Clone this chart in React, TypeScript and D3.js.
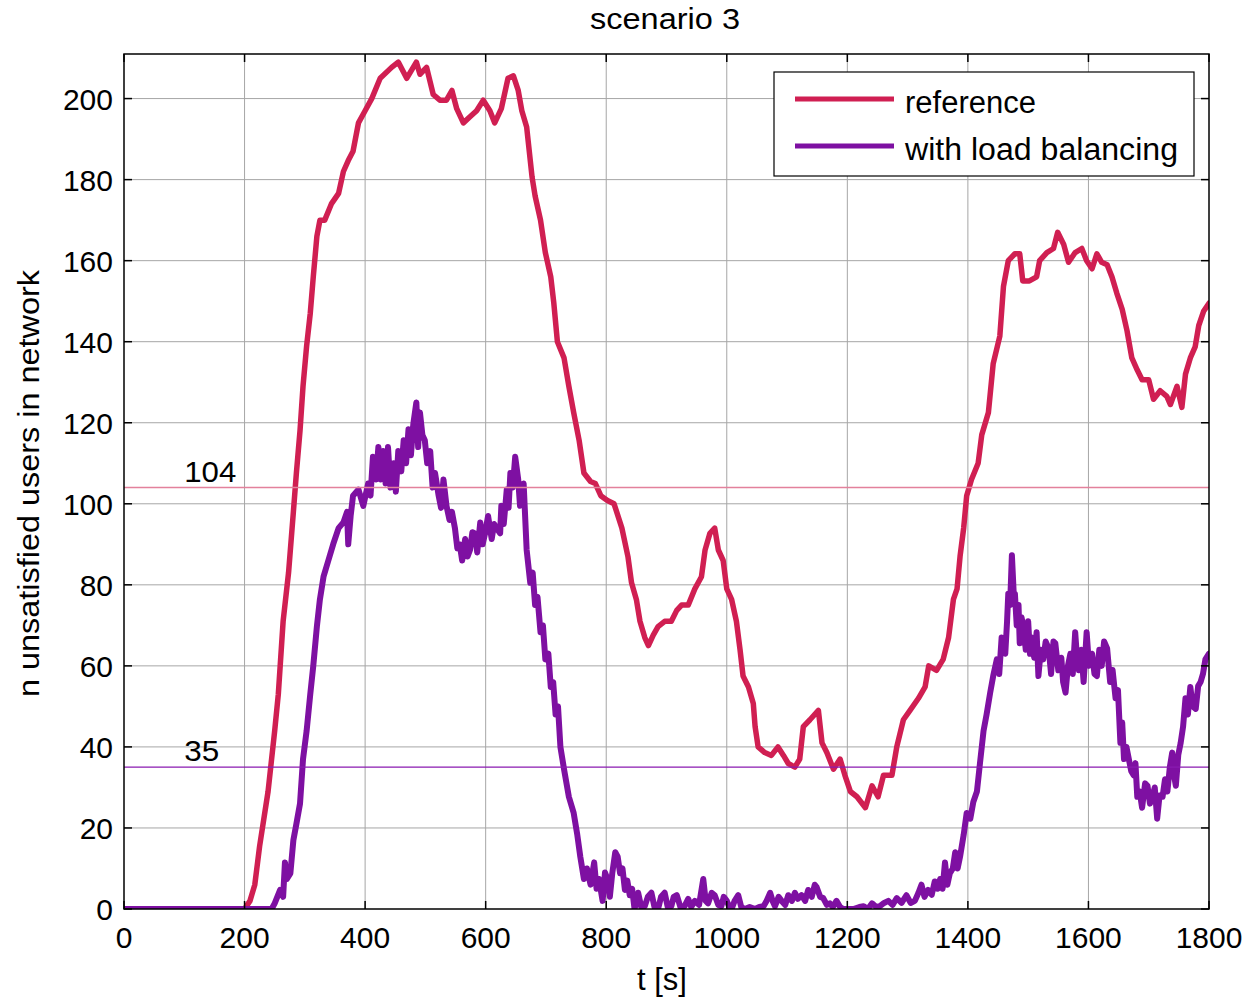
import React from "react";
import * as d3 from "d3";

// Time axis ticks (s) and user-count ticks
const xTicks = [0, 200, 400, 600, 800, 1000, 1200, 1400, 1600, 1800];
const yTicks = [0, 20, 40, 60, 80, 100, 120, 140, 160, 180, 200];

// Threshold levels annotated on the chart
const thresholdRef = 104;
const thresholdLb = 35;

const seriesNames = ["reference", "with load balancing"];
const seriesColors = ["#D01F52", "#7E10A2"];

// [t (s), unsatisfied users] — reference scenario
const referenceData: [number, number][] = [
  [0, 0], [200, 0], [209, 2], [217, 6], [225, 15.5], [239, 29], [250, 44], [256, 53],
  [264, 71], [273, 83], [281, 98], [286, 107.6], [292, 118], [297, 129], [303, 139],
  [309, 147], [314, 156], [320, 166], [325, 170], [333, 170], [344, 174], [356, 176.6],
  [364, 182], [372, 184.7], [380, 187], [389, 194], [400, 197], [411, 200], [425, 205],
  [444, 207.7], [455, 209], [469, 205], [485, 209], [491, 206], [502, 207.7], [513, 201],
  [524, 199.6], [535, 199.6], [544, 202], [552, 197.5], [563, 194], [574, 195.5], [585, 197],
  [596, 199.6], [607, 197], [615, 194], [626, 197.5], [637, 205], [646, 205.6], [654, 202],
  [660, 197], [668, 193], [677, 180.6], [682, 176], [691, 170], [699, 162], [708, 156],
  [713, 149.6], [719, 140], [730, 136], [738, 129], [746, 122.5], [755, 115.7], [763, 107.6],
  [774, 105.5], [782, 105], [791, 102], [802, 100.8], [813, 100], [826, 94], [836, 87],
  [842, 80.5], [850, 76.4], [856, 71], [864, 67], [870, 65], [878, 67.6], [886, 69.7],
  [897, 71], [908, 71], [917, 73.7], [925, 75], [936, 75], [947, 79], [958, 82], [964, 88.6],
  [972, 92.7], [980, 94], [986, 88.6], [994, 86], [1000, 79], [1008, 76.4], [1016, 71],
  [1022, 64], [1027, 57.5], [1036, 54.8], [1044, 50.7], [1047, 45], [1052, 40], [1063, 38.6],
  [1074, 37.9], [1085, 40], [1094, 37.9], [1102, 35.9], [1113, 35], [1121, 37], [1127, 45],
  [1138, 46.7], [1152, 49], [1158, 41], [1166, 38.6], [1177, 34.5], [1188, 37], [1196, 33],
  [1205, 29], [1216, 27.7], [1230, 25], [1241, 30.4], [1251, 27.7], [1260, 33], [1274, 33],
  [1282, 40], [1293, 46.7], [1304, 49], [1318, 52], [1329, 54.8], [1335, 60], [1348, 58.9],
  [1359, 61.6], [1368, 67], [1376, 76.4], [1382, 79], [1387, 87], [1393, 94], [1398, 102],
  [1406, 106], [1417, 110], [1423, 117], [1434, 122.5], [1442, 134.6], [1453, 141.4],
  [1459, 153.6], [1467, 160], [1478, 161.7], [1486, 161.7], [1491, 155], [1502, 155],
  [1514, 156], [1519, 160], [1531, 162], [1542, 163], [1549, 167], [1559, 164], [1567, 159.6],
  [1578, 162], [1589, 163], [1597, 160], [1606, 158], [1614, 161.7], [1622, 159.6], [1631, 159],
  [1639, 156], [1647, 152], [1656, 148], [1664, 142.7], [1672, 136], [1681, 133], [1689, 130.6],
  [1700, 130.6], [1708, 125.8], [1719, 127.9], [1730, 126.5], [1736, 124.5], [1747, 129],
  [1755, 123.8], [1761, 132], [1769, 136], [1777, 138.7], [1783, 144], [1791, 147.5], [1800, 149.5],
];

// [t (s), unsatisfied users] — with load balancing
const loadBalancingData: [number, number][] = [
  [0, 0], [245, 0], [250, 1.4], [259, 4.7], [264, 3], [267, 11.5], [270, 7.4], [276, 8.8],
  [281, 17], [286, 21], [292, 26], [297, 37], [303, 44], [309, 53], [314, 60], [320, 69.7],
  [325, 76.4], [331, 82], [339, 86], [347, 90], [356, 94], [364, 95.4], [370, 98], [372, 90],
  [376, 97], [380, 102], [389, 103.5], [397, 99.5], [405, 105], [409, 102], [413, 111.6],
  [418, 106], [422, 114], [426, 106], [430, 113], [434, 105], [438, 114], [442, 104], [447, 110],
  [451, 103], [455, 113], [460, 108], [464, 115.7], [468, 110], [472, 118.4], [476, 112],
  [480, 119.7], [485, 125], [488, 114], [491, 122.5], [495, 117], [499, 115.7], [503, 110],
  [508, 113], [512, 104], [516, 107.6], [522, 102], [526, 99], [530, 106], [535, 99.5], [540, 96],
  [544, 98], [549, 94], [553, 89], [557, 90], [561, 86], [566, 91.3], [570, 87], [574, 88.6],
  [578, 93], [582, 92.7], [586, 88], [591, 95.4], [595, 90], [599, 92.7], [604, 97], [610, 91.3],
  [614, 95], [618, 94], [624, 92.7], [626, 99.5], [630, 95], [635, 103.5], [638, 99], [641, 107.6],
  [645, 104], [649, 111.6], [654, 106], [657, 99.5], [663, 105], [668, 88.6], [674, 80.5],
  [678, 83], [682, 75], [686, 77], [691, 68.3], [695, 70], [699, 61.6], [704, 63], [708, 54.8],
  [712, 56], [716, 48], [720, 50], [724, 40], [730, 34.5], [738, 27.7], [746, 23.7], [752, 18.3],
  [757, 12.9], [763, 7.4], [768, 10], [774, 6], [780, 11.5], [784, 5], [788, 7.4], [794, 2],
  [798, 9], [802, 7.4], [806, 3], [810, 8.8], [815, 14], [819, 12.9], [823, 8.8], [827, 10],
  [831, 4.7], [835, 7], [839, 3.4], [843, 5], [847, 0], [853, 4], [858, 0.5], [864, 0.7],
  [869, 3], [875, 4], [880, 0.5], [886, 0], [891, 3], [897, 4], [902, 0.5], [908, 0.7], [912, 3],
  [917, 3.4], [923, 0.5], [930, 0.7], [936, 2.5], [941, 0.5], [947, 2], [954, 1], [961, 7.4],
  [965, 2], [969, 1.4], [975, 4], [980, 3.4], [986, 1], [991, 0.7], [995, 3], [1000, 2],
  [1004, 0.5], [1008, 0], [1013, 2], [1019, 3.4], [1024, 0.5], [1030, 0], [1038, 0.5], [1047, 0],
  [1054, 0.5], [1061, 0.7], [1066, 2], [1072, 4], [1076, 2], [1080, 0.7], [1086, 3], [1091, 2],
  [1097, 1], [1102, 3.4], [1108, 2], [1113, 4], [1118, 2.5], [1124, 3.4], [1130, 2], [1135, 4.7],
  [1141, 3], [1146, 6], [1149, 5.4], [1155, 3], [1160, 2.7], [1166, 1], [1171, 1.4], [1176, 0.5],
  [1182, 2], [1188, 0.5], [1193, 0], [1210, 0], [1220, 0.5], [1227, 0.7], [1234, 0], [1241, 1.4],
  [1248, 0.5], [1254, 0.7], [1261, 1.5], [1268, 2], [1275, 1], [1282, 2.7], [1290, 1.5],
  [1298, 3.4], [1305, 1.5], [1312, 2], [1318, 4], [1323, 6], [1328, 3], [1334, 4.7], [1340, 3.5],
  [1345, 6.8], [1350, 5], [1354, 7.4], [1358, 5], [1362, 11.5], [1366, 6], [1370, 8.8], [1375, 10],
  [1379, 14], [1383, 10], [1387, 12.9], [1393, 18.3], [1398, 23.7], [1404, 22.3], [1409, 26.4],
  [1415, 29], [1420, 35.9], [1426, 44], [1431, 48], [1437, 53.4], [1442, 57.5], [1448, 61.6],
  [1452, 58], [1456, 67], [1462, 63], [1465, 71], [1467, 77.8], [1470, 75], [1473, 87.3],
  [1476, 78], [1478, 77.8], [1481, 70], [1484, 75], [1486, 65.6], [1489, 72], [1492, 69.7],
  [1496, 64], [1500, 71], [1503, 63], [1506, 67], [1510, 62], [1514, 68.3], [1517, 57.5],
  [1521, 64], [1525, 61.6], [1529, 66], [1534, 64.3], [1538, 58], [1542, 66], [1545, 65.6],
  [1550, 58.9], [1555, 62], [1558, 56], [1562, 53.4], [1566, 60], [1570, 63], [1574, 58],
  [1578, 68.3], [1581, 62], [1584, 58.9], [1588, 64], [1592, 56], [1597, 68.3], [1601, 60],
  [1606, 63], [1610, 58], [1614, 57.5], [1618, 64], [1622, 60], [1626, 66], [1631, 64.3],
  [1636, 56], [1640, 59], [1645, 52], [1649, 54], [1653, 41], [1656, 46], [1659, 37], [1663, 40],
  [1667, 37], [1671, 34], [1675, 33], [1678, 36], [1681, 27.7], [1685, 29], [1689, 25], [1694, 31],
  [1698, 30.4], [1702, 26], [1706, 27.7], [1710, 30], [1714, 22.3], [1718, 28], [1723, 27.7],
  [1727, 32], [1731, 29], [1735, 35], [1739, 38.6], [1742, 33], [1745, 30.4], [1749, 38],
  [1753, 41], [1757, 45], [1761, 52], [1765, 48], [1769, 54.8], [1773, 50], [1778, 49.4],
  [1782, 55], [1786, 56], [1790, 58], [1794, 61.6], [1800, 63],
];

const W = 1251;
const H = 999;
const plot = { left: 124, right: 1209, top: 54, bottom: 909 };
const FONT = "'Liberation Sans', Arial, Helvetica, sans-serif";

export default function App() {
  const x = d3.scaleLinear().domain([0, 1800]).range([plot.left, plot.right]);
  const y = d3.scaleLinear().domain([0, 211]).range([plot.bottom, plot.top]);
  const line = d3
    .line<[number, number]>()
    .x((d) => x(d[0]))
    .y((d) => y(d[1]));

  const tickLen = 8;
  const gridColor = "#a6a6a6";

  return (
    <svg
      width={W}
      height={H}
      viewBox={`0 0 ${W} ${H}`}
      style={{ position: "absolute", left: 0, top: 0, background: "#fff" }}
      fontFamily={FONT}
    >
      <rect x={0} y={0} width={W} height={H} fill="#fff" />
      <defs>
        <clipPath id="plot-clip">
          <rect x={plot.left} y={plot.top} width={plot.right - plot.left} height={plot.bottom - plot.top} />
        </clipPath>
      </defs>

      {/* grid */}
      <g stroke={gridColor} strokeWidth={1}>
        {xTicks.slice(1, -1).map((t) => (
          <line key={`gx${t}`} x1={x(t)} x2={x(t)} y1={plot.top} y2={plot.bottom} />
        ))}
        {yTicks.slice(1).map((v) => (
          <line key={`gy${v}`} x1={plot.left} x2={plot.right} y1={y(v)} y2={y(v)} />
        ))}
      </g>

      {/* series */}
      <g clipPath="url(#plot-clip)" fill="none" strokeLinejoin="round" strokeLinecap="round">
        <path d={line(referenceData) ?? ""} stroke={seriesColors[0]} strokeWidth={5.5} />
        <path d={line(loadBalancingData) ?? ""} stroke={seriesColors[1]} strokeWidth={6} />
      </g>

      {/* threshold lines */}
      <line x1={plot.left} x2={plot.right} y1={y(thresholdRef)} y2={y(thresholdRef)} stroke="#E3819C" strokeWidth={1.5} />
      <line x1={plot.left} x2={plot.right} y1={y(thresholdLb)} y2={y(thresholdLb)} stroke="#8A1AB0" strokeWidth={1.2} />
      <text x={x(100)} y={y(thresholdRef) - 6} fontSize={30} fill="#000" textLength={52} lengthAdjust="spacingAndGlyphs">{thresholdRef}</text>
      <text x={x(100)} y={y(thresholdLb) - 6} fontSize={30} fill="#000" textLength={35} lengthAdjust="spacingAndGlyphs">{thresholdLb}</text>

      {/* axes box + ticks */}
      <rect
        x={plot.left}
        y={plot.top}
        width={plot.right - plot.left}
        height={plot.bottom - plot.top}
        fill="none"
        stroke="#000"
        strokeWidth={1.5}
      />
      <g stroke="#000" strokeWidth={1.5}>
        {xTicks.map((t) => (
          <g key={`tx${t}`}>
            <line x1={x(t)} x2={x(t)} y1={plot.bottom} y2={plot.bottom - tickLen} />
            <line x1={x(t)} x2={x(t)} y1={plot.top} y2={plot.top + tickLen} />
          </g>
        ))}
        {yTicks.map((v) => (
          <g key={`ty${v}`}>
            <line x1={plot.left} x2={plot.left + tickLen} y1={y(v)} y2={y(v)} />
            <line x1={plot.right} x2={plot.right - tickLen} y1={y(v)} y2={y(v)} />
          </g>
        ))}
      </g>

      {/* tick labels */}
      <g fontSize={30} fill="#000">
        {xTicks.map((t) => (
          <text key={`lx${t}`} x={x(t)} y={948} textAnchor="middle">
            {t}
          </text>
        ))}
        {yTicks.map((v) => (
          <text key={`ly${v}`} x={113} y={y(v) + 11} textAnchor="end">
            {v}
          </text>
        ))}
      </g>

      {/* titles */}
      <text x={665} y={29} fontSize={30} textAnchor="middle" fill="#000" textLength={150} lengthAdjust="spacingAndGlyphs">
        scenario 3
      </text>
      <text x={662} y={990} fontSize={31} textAnchor="middle" fill="#000">
        t [s]
      </text>
      <text
        transform={`translate(39, ${y(105)}) rotate(-90)`}
        fontSize={30}
        textAnchor="middle"
        fill="#000"
        textLength={427}
        lengthAdjust="spacingAndGlyphs"
      >
        n unsatisfied users in network
      </text>

      {/* legend */}
      <g>
        <rect x={774} y={72} width={420} height={104} fill="#fff" stroke="#000" strokeWidth={1.2} />
        {seriesNames.map((name, i) => (
          <g key={name}>
            <line x1={795} x2={894} y1={99 + i * 47} y2={99 + i * 47} stroke={seriesColors[i]} strokeWidth={5} />
            <text
              x={905}
              y={113 + i * 47}
              fontSize={31}
              fill="#000"
              textLength={i === 0 ? 131 : 273}
              lengthAdjust="spacingAndGlyphs"
            >
              {name}
            </text>
          </g>
        ))}
      </g>
    </svg>
  );
}
